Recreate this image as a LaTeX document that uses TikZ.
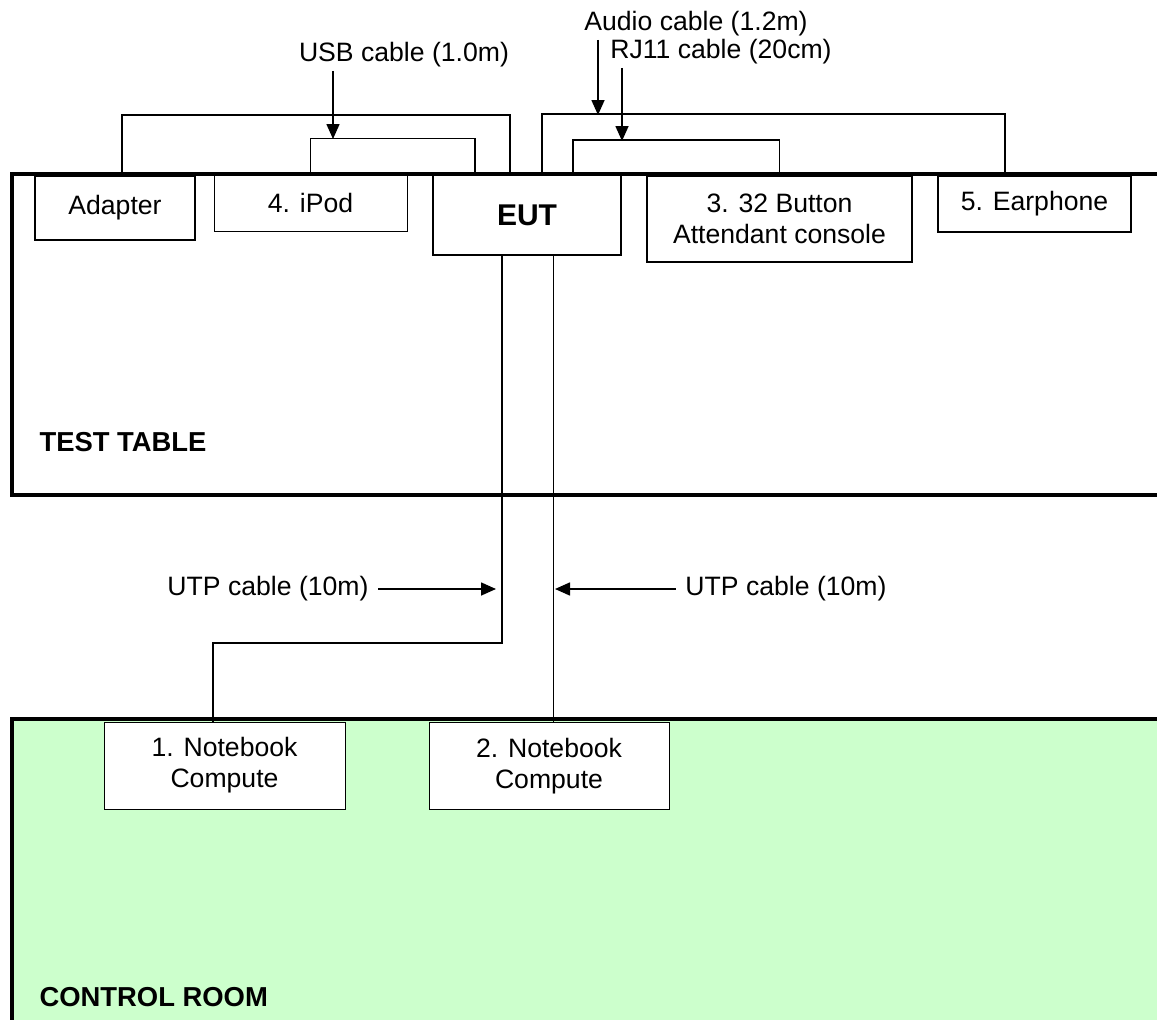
\documentclass[tikz,border=0pt]{standalone}
\usepackage{fontspec}
\setmainfont{Liberation Sans}
\usetikzlibrary{arrows.meta}
\definecolor{roomgreen}{HTML}{CCFFCC}
\begin{document}
\begin{tikzpicture}[x=1pt, y=-1pt, line join=miter, >={Triangle[length=15pt,width=13pt]},
		font=\fontsize{26.6}{31}\selectfont,
		box/.style={draw, fill=white, line width=1.6pt, align=center, inner sep=0pt},
		thinbox/.style={box, line width=1pt},
		cable/.style={line width=1.6pt},
		wall/.style={line width=4.5pt},
		roomlbl/.style={anchor=west, font=\fontsize{27.4}{31}\selectfont\bfseries}]
		\useasboundingbox (0,0) rectangle (1157,1020);
		% rooms
		\fill[roomgreen] (12,719) rectangle (1157,1020);
		\draw[wall] (1157,174) -- (12,174) -- (12,495) -- (1157,495);
		\draw[wall] (1157,719) -- (12,719) -- (12,1020);
		\node[roomlbl] (table) at (36,442) {TEST TABLE};
		\node[roomlbl] (room) at (36,997) {CONTROL ROOM};
		% equipment on the table
		\node[box, minimum width=160pt, minimum height=64pt] (Adapter) at (115,208) {Adapter};
		\node[thinbox, minimum width=193pt, minimum height=56pt] (iPod) at (310.5,203) {4. iPod};
		\node[box, minimum width=188pt, minimum height=80pt, font=\fontsize{30}{34}\selectfont\bfseries] (EUT) at (527,215) {EUT};
		\node[box, minimum width=265pt, minimum height=86pt] (Console) at (779.5,219) {3. 32 Button\\Attendant console};
		\node[box, minimum width=193pt, minimum height=56pt] (Earphone) at (1034.5,204) {5. Earphone};
		% equipment in the control room
		\node[thinbox, minimum width=241pt, minimum height=87pt] (NB1) at (224.5,765.5) {1. Notebook\\Compute};
		\node[thinbox, minimum width=240pt, minimum height=87pt] (NB2) at (549,766) {2. Notebook\\Compute};
		% cables above the table
		\draw[cable] ([xshift=7pt]Adapter.north) -- ++(0,-60) -| ([xshift=-17pt]EUT.north);
		\draw[cable] (iPod.north) -- ++(0,-36) -| ([xshift=-52pt]EUT.north);
		\draw[cable] ([xshift=15pt]EUT.north) -- ++(0,-60) -| ([xshift=-29.5pt]Earphone.north);
		\draw[cable] ([xshift=46pt]EUT.north) -- ++(0,-34) -| (Console.north);
		% cables down to the control room
		\draw[cable] ([xshift=-25pt]EUT.south) -- ++(0,387) -| ([xshift=-11.5pt]NB1.north);
		\draw[line width=1pt] ([xshift=26pt]EUT.south) -- ([xshift=26pt]EUT.south |- NB2.north);
		% cable labels
		\node (usb) at (404,55) {USB cable (1.0m)};
		\node (audio) at (696,24) {Audio cable (1.2m)};
		\node (rj) at (721,52) {RJ11 cable (20cm)};
		\node (utpl) at (268,589) {UTP cable (10m)};
		\node (utpr) at (786,589) {UTP cable (10m)};
		\coordinate (usbhit) at (333,139);
		\coordinate (audiohit) at (598,115);
		\coordinate (rjhit) at (622,141);
		\coordinate (utplhit) at (496,589);
		\coordinate (utprhit) at (555,589);
		\draw[->, line width=1.6pt] (usbhit |- usb.south) -- (usbhit);
		\draw[->, line width=1.6pt] (audiohit |- audio.south) -- (audiohit);
		\draw[->, line width=1.6pt] (rjhit |- rj.south) -- (rjhit);
		\draw[->, line width=1.6pt] ([xshift=6pt]utpl.east) -- (utplhit);
		\draw[->, line width=1.6pt] ([xshift=-6pt]utpr.west) -- (utprhit);
\end{tikzpicture}
\end{document}
